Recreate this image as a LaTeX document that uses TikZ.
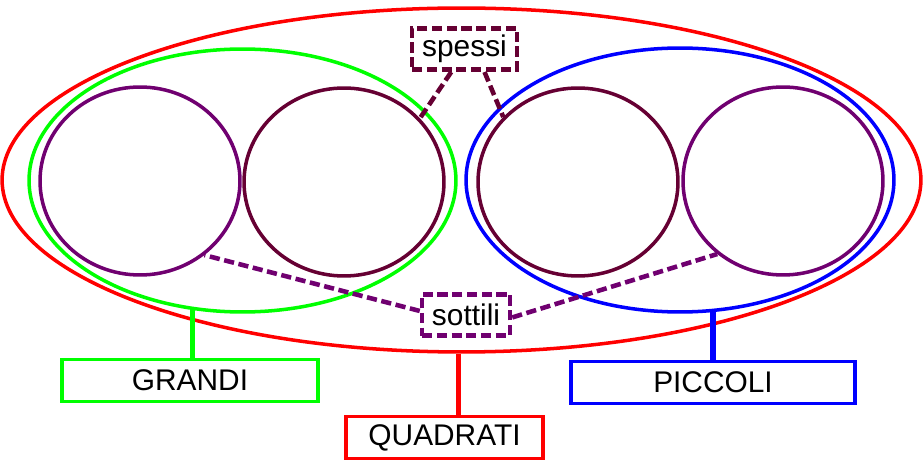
\documentclass[tikz,border=0pt]{standalone}
\usepackage{fontspec}
\setmainfont{Liberation Sans}
\usetikzlibrary{shapes.geometric}
\definecolor{viola}{RGB}{112,0,112}
\definecolor{bordeaux}{RGB}{102,0,51}
\tikzset{font=\fontsize{17}{20}\selectfont}
\tikzset{every node/.append style={inner sep=0pt}}
\tikzset{insieme/.style={ellipse,draw,line width=2pt,minimum width=#1}}
\tikzset{cerchio/.style={ellipse,draw,line width=2pt,minimum width=4cm,minimum height=3.76cm}}
\tikzset{etichetta/.style={draw,line width=1.9pt,minimum height=0.83cm}}
\tikzset{tratteggio/.style={line width=2.6pt,dash pattern=on 5.8pt off 2.6pt}}

\begin{document}
\begin{tikzpicture}[x=0.02cm,y=-0.02cm]
  \useasboundingbox (0,0) rectangle (923,462);
  \node[insieme=18.38cm,minimum height=6.88cm,red] (quadrati) at (461.5,180) {};
  \node[insieme=8.54cm,minimum height=5.26cm,green] (grandi) at (242.5,180.5) {};
  \node[insieme=8.56cm,minimum height=5.28cm,blue] (piccoli) at (680,180) {};
  \node[cerchio,viola] (c1) at (140,181) {};
  \node[cerchio,bordeaux] (c2) at (344,182) {};
  \node[cerchio,bordeaux] (c3) at (578,182) {};
  \node[cerchio,viola] (c4) at (783,181) {};
  % etichette
  \node[etichetta,tratteggio,bordeaux,fill=white,text=black,minimum width=2.1cm] (spessi) at (464.5,49) {spessi};
  \node[etichetta,tratteggio,viola,fill=white,text=black,minimum width=1.76cm] (sottili) at (466,315) {sottili};
  \node[etichetta,green,text=black,minimum width=5.12cm] (Lgrandi) at (190,380.5) {GRANDI};
  \node[etichetta,blue,text=black,minimum width=5.68cm] (Lpiccoli) at (713,382.5) {PICCOLI};
  \node[etichetta,red,text=black,minimum width=3.94cm] (Lquadrati) at (444.5,437.5) {QUADRATI};
  % collegamenti
  \draw[tratteggio,bordeaux] (spessi.-120) -- (c2.40);
  \draw[tratteggio,bordeaux] (spessi.-49) -- (c3.139);
  \draw[tratteggio,viola] (sottili.175) -- (c1.-49);
  \draw[tratteggio,viola] (sottili.-3) -- (c4.-132);
  \draw[line width=3pt,green] (grandi.-111) -- (grandi.-111 |- Lgrandi.north);
  \draw[line width=3pt,blue] (piccoli.-76) -- (piccoli.-76 |- Lpiccoli.north);
  \draw[line width=3pt,red] (quadrati.-91) -- (quadrati.-91 |- Lquadrati.north);
\end{tikzpicture}
\end{document}
